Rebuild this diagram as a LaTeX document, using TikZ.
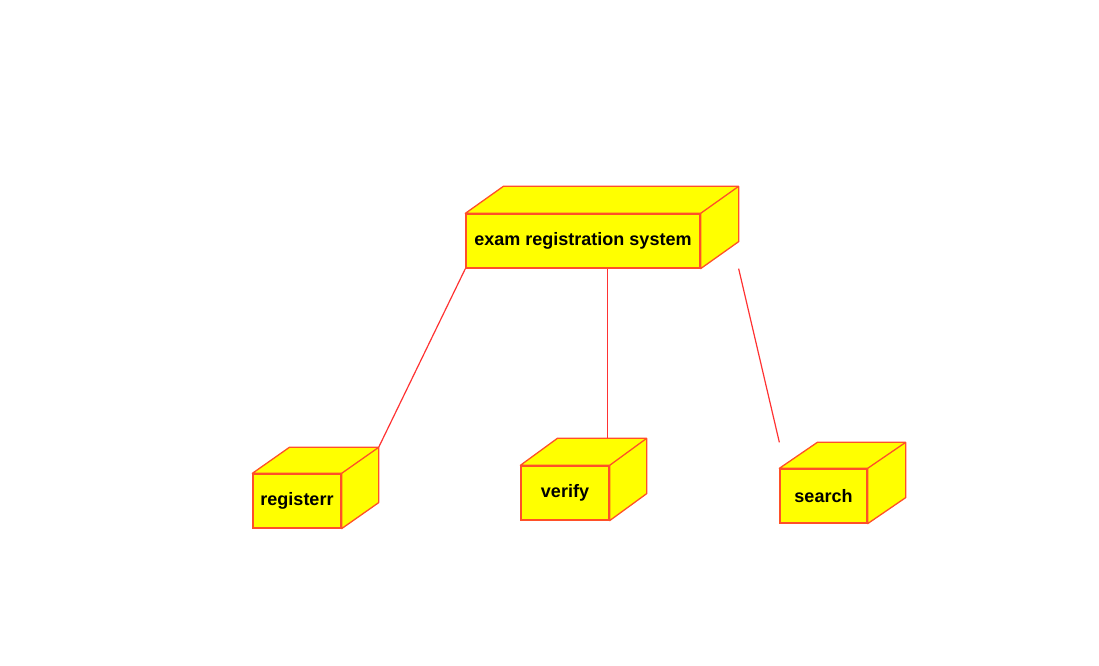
\documentclass[tikz,border=0pt]{standalone}
\usepackage{fontspec}
\setmainfont{Liberation Sans}
\usepackage{xcolor}
\usepackage{tikz}
\usetikzlibrary{positioning, calc}

\definecolor{boxline}{RGB}{255,80,40}
\definecolor{boxfill}{RGB}{255,255,0}
\definecolor{linkred}{RGB}{255,50,50}

\tikzset{
  devbox/.style={draw=boxline, fill=boxfill, line width=1.3bp, rectangle, inner sep=0pt,
    minimum height=54bp, font=\fontsize{18bp}{22bp}\selectfont\bfseries},
  boxedge/.style={draw=boxline, fill=boxfill, line width=1.3bp, line join=round},
  link/.style={draw=linkred, line width=1.2bp}
}

% top and side faces of a box node: name, depth x, depth y
\newcommand{\boxfaces}[3]{%
  \coordinate (#1-back) at ($(#1.north east)+(#2,#3)$);
  \draw[boxedge] (#1.north west) -- ++(#2,#3) -- (#1-back) -- ($(#1.south east)+(#2,#3)$)
    -- (#1.south east) -- (#1.north east) -- cycle;
  \draw[boxedge] (#1.north east) -- (#1-back);
}

\begin{document}
\begin{tikzpicture}[x=1bp, y=1bp]
          \useasboundingbox (0,0) rectangle (1099,666);

          \node[devbox, minimum width=234bp] (sys) at (583, 425) {exam registration system};
          \node[devbox, minimum width=88bp] (reg) at (297, 165) {registerr};
          \node[devbox, minimum width=88bp] (ver) at (565, 173) {verify};
          \node[devbox, minimum width=87bp] (sea) at (823.5, 170) {search};

          \boxfaces{sys}{38}{27}
          \boxfaces{reg}{37}{26}
          \boxfaces{ver}{37}{27}
          \boxfaces{sea}{38}{26}

          \coordinate (ver-top) at ($(ver.north)+(42.5,27)$);

          \draw[link] (sys.south west) -- (reg-back);
          \draw[link] (ver-top |- sys.south) -- (ver-top);
          \draw[link] (sys-back |- sys.south) -- (sea.north west |- sea-back);
        \end{tikzpicture}
\end{document}
